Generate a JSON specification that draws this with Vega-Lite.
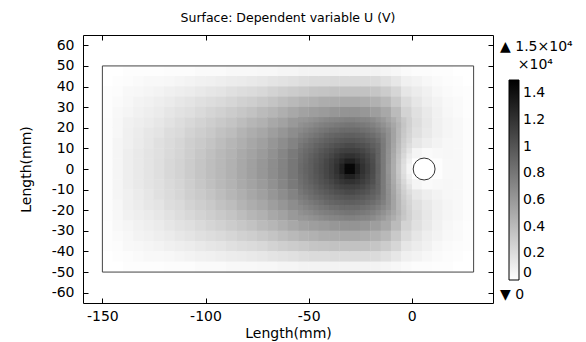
{
"$schema":"https://vega.github.io/schema/vega-lite/v6.json",
"width":410,"height":268,
"autosize":{"type":"none"},
"padding":{"left":83,"top":35,"right":93,"bottom":39},
"background":"white",
"title":{"text":"Surface: Dependent variable U (V)","font":"DejaVu Sans","fontSize":12.5,"fontWeight":"normal","color":"black","anchor":"middle","offset":10},
"config":{"view":{"stroke":"black","strokeWidth":1},"font":"DejaVu Sans","axis":{"grid":false,"domain":false,"tickColor":"black","labelColor":"black","titleColor":"black","labelFont":"DejaVu Sans","titleFont":"DejaVu Sans","labelFontSize":14,"titleFontSize":14,"titleFontWeight":"normal","tickSize":-5}},
"datasets":{
"coarse":[
{"x":-147.5,"y":47.5,"u":0},{"x":-147.5,"y":42.5,"u":0},{"x":-147.5,"y":37.5,"u":0.01},{"x":-147.5,"y":32.5,"u":0.01},{"x":-147.5,"y":27.5,"u":0.01},{"x":-147.5,"y":22.5,"u":0.02},{"x":-147.5,"y":17.5,"u":0.02},{"x":-147.5,"y":12.5,"u":0.02},{"x":-147.5,"y":7.5,"u":0.02},{"x":-147.5,"y":2.5,"u":0.02},{"x":-147.5,"y":-2.5,"u":0.02},{"x":-147.5,"y":-7.5,"u":0.02},{"x":-147.5,"y":-12.5,"u":0.02},{"x":-147.5,"y":-17.5,"u":0.02},{"x":-147.5,"y":-22.5,"u":0.02},{"x":-147.5,"y":-27.5,"u":0.01},{"x":-147.5,"y":-32.5,"u":0.01},{"x":-147.5,"y":-37.5,"u":0.01},{"x":-147.5,"y":-42.5,"u":0},{"x":-147.5,"y":-47.5,"u":0},
{"x":-142.5,"y":47.5,"u":0},{"x":-142.5,"y":42.5,"u":0.01},{"x":-142.5,"y":37.5,"u":0.02},{"x":-142.5,"y":32.5,"u":0.03},{"x":-142.5,"y":27.5,"u":0.04},{"x":-142.5,"y":22.5,"u":0.05},{"x":-142.5,"y":17.5,"u":0.05},{"x":-142.5,"y":12.5,"u":0.06},{"x":-142.5,"y":7.5,"u":0.06},{"x":-142.5,"y":2.5,"u":0.06},{"x":-142.5,"y":-2.5,"u":0.06},{"x":-142.5,"y":-7.5,"u":0.06},{"x":-142.5,"y":-12.5,"u":0.06},{"x":-142.5,"y":-17.5,"u":0.05},{"x":-142.5,"y":-22.5,"u":0.05},{"x":-142.5,"y":-27.5,"u":0.04},{"x":-142.5,"y":-32.5,"u":0.03},{"x":-142.5,"y":-37.5,"u":0.02},{"x":-142.5,"y":-42.5,"u":0.01},{"x":-142.5,"y":-47.5,"u":0},
{"x":-137.5,"y":47.5,"u":0.01},{"x":-137.5,"y":42.5,"u":0.02},{"x":-137.5,"y":37.5,"u":0.04},{"x":-137.5,"y":32.5,"u":0.05},{"x":-137.5,"y":27.5,"u":0.06},{"x":-137.5,"y":22.5,"u":0.08},{"x":-137.5,"y":17.5,"u":0.09},{"x":-137.5,"y":12.5,"u":0.09},{"x":-137.5,"y":7.5,"u":0.1},{"x":-137.5,"y":2.5,"u":0.1},{"x":-137.5,"y":-2.5,"u":0.1},{"x":-137.5,"y":-7.5,"u":0.1},{"x":-137.5,"y":-12.5,"u":0.09},{"x":-137.5,"y":-17.5,"u":0.09},{"x":-137.5,"y":-22.5,"u":0.08},{"x":-137.5,"y":-27.5,"u":0.06},{"x":-137.5,"y":-32.5,"u":0.05},{"x":-137.5,"y":-37.5,"u":0.04},{"x":-137.5,"y":-42.5,"u":0.02},{"x":-137.5,"y":-47.5,"u":0.01},
{"x":-132.5,"y":47.5,"u":0.01},{"x":-132.5,"y":42.5,"u":0.03},{"x":-132.5,"y":37.5,"u":0.05},{"x":-132.5,"y":32.5,"u":0.07},{"x":-132.5,"y":27.5,"u":0.08},{"x":-132.5,"y":22.5,"u":0.1},{"x":-132.5,"y":17.5,"u":0.11},{"x":-132.5,"y":12.5,"u":0.12},{"x":-132.5,"y":7.5,"u":0.13},{"x":-132.5,"y":2.5,"u":0.13},{"x":-132.5,"y":-2.5,"u":0.13},{"x":-132.5,"y":-7.5,"u":0.13},{"x":-132.5,"y":-12.5,"u":0.12},{"x":-132.5,"y":-17.5,"u":0.11},{"x":-132.5,"y":-22.5,"u":0.1},{"x":-132.5,"y":-27.5,"u":0.08},{"x":-132.5,"y":-32.5,"u":0.07},{"x":-132.5,"y":-37.5,"u":0.05},{"x":-132.5,"y":-42.5,"u":0.03},{"x":-132.5,"y":-47.5,"u":0.01},
{"x":-127.5,"y":47.5,"u":0.01},{"x":-127.5,"y":42.5,"u":0.04},{"x":-127.5,"y":37.5,"u":0.06},{"x":-127.5,"y":32.5,"u":0.08},{"x":-127.5,"y":27.5,"u":0.1},{"x":-127.5,"y":22.5,"u":0.12},{"x":-127.5,"y":17.5,"u":0.14},{"x":-127.5,"y":12.5,"u":0.15},{"x":-127.5,"y":7.5,"u":0.16},{"x":-127.5,"y":2.5,"u":0.16},{"x":-127.5,"y":-2.5,"u":0.16},{"x":-127.5,"y":-7.5,"u":0.16},{"x":-127.5,"y":-12.5,"u":0.15},{"x":-127.5,"y":-17.5,"u":0.14},{"x":-127.5,"y":-22.5,"u":0.12},{"x":-127.5,"y":-27.5,"u":0.1},{"x":-127.5,"y":-32.5,"u":0.08},{"x":-127.5,"y":-37.5,"u":0.06},{"x":-127.5,"y":-42.5,"u":0.04},{"x":-127.5,"y":-47.5,"u":0.01},
{"x":-122.5,"y":47.5,"u":0.01},{"x":-122.5,"y":42.5,"u":0.04},{"x":-122.5,"y":37.5,"u":0.07},{"x":-122.5,"y":32.5,"u":0.1},{"x":-122.5,"y":27.5,"u":0.12},{"x":-122.5,"y":22.5,"u":0.14},{"x":-122.5,"y":17.5,"u":0.16},{"x":-122.5,"y":12.5,"u":0.18},{"x":-122.5,"y":7.5,"u":0.18},{"x":-122.5,"y":2.5,"u":0.19},{"x":-122.5,"y":-2.5,"u":0.19},{"x":-122.5,"y":-7.5,"u":0.18},{"x":-122.5,"y":-12.5,"u":0.18},{"x":-122.5,"y":-17.5,"u":0.16},{"x":-122.5,"y":-22.5,"u":0.14},{"x":-122.5,"y":-27.5,"u":0.12},{"x":-122.5,"y":-32.5,"u":0.1},{"x":-122.5,"y":-37.5,"u":0.07},{"x":-122.5,"y":-42.5,"u":0.04},{"x":-122.5,"y":-47.5,"u":0.01},
{"x":-117.5,"y":47.5,"u":0.02},{"x":-117.5,"y":42.5,"u":0.05},{"x":-117.5,"y":37.5,"u":0.09},{"x":-117.5,"y":32.5,"u":0.12},{"x":-117.5,"y":27.5,"u":0.15},{"x":-117.5,"y":22.5,"u":0.17},{"x":-117.5,"y":17.5,"u":0.2},{"x":-117.5,"y":12.5,"u":0.21},{"x":-117.5,"y":7.5,"u":0.22},{"x":-117.5,"y":2.5,"u":0.23},{"x":-117.5,"y":-2.5,"u":0.23},{"x":-117.5,"y":-7.5,"u":0.22},{"x":-117.5,"y":-12.5,"u":0.21},{"x":-117.5,"y":-17.5,"u":0.2},{"x":-117.5,"y":-22.5,"u":0.17},{"x":-117.5,"y":-27.5,"u":0.15},{"x":-117.5,"y":-32.5,"u":0.12},{"x":-117.5,"y":-37.5,"u":0.09},{"x":-117.5,"y":-42.5,"u":0.05},{"x":-117.5,"y":-47.5,"u":0.02},
{"x":-112.5,"y":47.5,"u":0.02},{"x":-112.5,"y":42.5,"u":0.06},{"x":-112.5,"y":37.5,"u":0.1},{"x":-112.5,"y":32.5,"u":0.14},{"x":-112.5,"y":27.5,"u":0.17},{"x":-112.5,"y":22.5,"u":0.2},{"x":-112.5,"y":17.5,"u":0.22},{"x":-112.5,"y":12.5,"u":0.24},{"x":-112.5,"y":7.5,"u":0.25},{"x":-112.5,"y":2.5,"u":0.26},{"x":-112.5,"y":-2.5,"u":0.26},{"x":-112.5,"y":-7.5,"u":0.25},{"x":-112.5,"y":-12.5,"u":0.24},{"x":-112.5,"y":-17.5,"u":0.22},{"x":-112.5,"y":-22.5,"u":0.2},{"x":-112.5,"y":-27.5,"u":0.17},{"x":-112.5,"y":-32.5,"u":0.14},{"x":-112.5,"y":-37.5,"u":0.1},{"x":-112.5,"y":-42.5,"u":0.06},{"x":-112.5,"y":-47.5,"u":0.02},
{"x":-107.5,"y":47.5,"u":0.02},{"x":-107.5,"y":42.5,"u":0.07},{"x":-107.5,"y":37.5,"u":0.11},{"x":-107.5,"y":32.5,"u":0.16},{"x":-107.5,"y":27.5,"u":0.19},{"x":-107.5,"y":22.5,"u":0.23},{"x":-107.5,"y":17.5,"u":0.26},{"x":-107.5,"y":12.5,"u":0.28},{"x":-107.5,"y":7.5,"u":0.29},{"x":-107.5,"y":2.5,"u":0.3},{"x":-107.5,"y":-2.5,"u":0.3},{"x":-107.5,"y":-7.5,"u":0.29},{"x":-107.5,"y":-12.5,"u":0.28},{"x":-107.5,"y":-17.5,"u":0.26},{"x":-107.5,"y":-22.5,"u":0.23},{"x":-107.5,"y":-27.5,"u":0.19},{"x":-107.5,"y":-32.5,"u":0.16},{"x":-107.5,"y":-37.5,"u":0.11},{"x":-107.5,"y":-42.5,"u":0.07},{"x":-107.5,"y":-47.5,"u":0.02},
{"x":-102.5,"y":47.5,"u":0.03},{"x":-102.5,"y":42.5,"u":0.08},{"x":-102.5,"y":37.5,"u":0.13},{"x":-102.5,"y":32.5,"u":0.18},{"x":-102.5,"y":27.5,"u":0.22},{"x":-102.5,"y":22.5,"u":0.26},{"x":-102.5,"y":17.5,"u":0.29},{"x":-102.5,"y":12.5,"u":0.31},{"x":-102.5,"y":7.5,"u":0.33},{"x":-102.5,"y":2.5,"u":0.34},{"x":-102.5,"y":-2.5,"u":0.34},{"x":-102.5,"y":-7.5,"u":0.33},{"x":-102.5,"y":-12.5,"u":0.31},{"x":-102.5,"y":-17.5,"u":0.29},{"x":-102.5,"y":-22.5,"u":0.26},{"x":-102.5,"y":-27.5,"u":0.22},{"x":-102.5,"y":-32.5,"u":0.18},{"x":-102.5,"y":-37.5,"u":0.13},{"x":-102.5,"y":-42.5,"u":0.08},{"x":-102.5,"y":-47.5,"u":0.03},
{"x":-97.5,"y":47.5,"u":0.03},{"x":-97.5,"y":42.5,"u":0.09},{"x":-97.5,"y":37.5,"u":0.15},{"x":-97.5,"y":32.5,"u":0.2},{"x":-97.5,"y":27.5,"u":0.25},{"x":-97.5,"y":22.5,"u":0.29},{"x":-97.5,"y":17.5,"u":0.32},{"x":-97.5,"y":12.5,"u":0.35},{"x":-97.5,"y":7.5,"u":0.37},{"x":-97.5,"y":2.5,"u":0.38},{"x":-97.5,"y":-2.5,"u":0.38},{"x":-97.5,"y":-7.5,"u":0.37},{"x":-97.5,"y":-12.5,"u":0.35},{"x":-97.5,"y":-17.5,"u":0.32},{"x":-97.5,"y":-22.5,"u":0.29},{"x":-97.5,"y":-27.5,"u":0.25},{"x":-97.5,"y":-32.5,"u":0.2},{"x":-97.5,"y":-37.5,"u":0.15},{"x":-97.5,"y":-42.5,"u":0.09},{"x":-97.5,"y":-47.5,"u":0.03},
{"x":-92.5,"y":47.5,"u":0.03},{"x":-92.5,"y":42.5,"u":0.1},{"x":-92.5,"y":37.5,"u":0.16},{"x":-92.5,"y":32.5,"u":0.22},{"x":-92.5,"y":27.5,"u":0.27},{"x":-92.5,"y":22.5,"u":0.32},{"x":-92.5,"y":17.5,"u":0.36},{"x":-92.5,"y":12.5,"u":0.39},{"x":-92.5,"y":7.5,"u":0.41},{"x":-92.5,"y":2.5,"u":0.42},{"x":-92.5,"y":-2.5,"u":0.42},{"x":-92.5,"y":-7.5,"u":0.41},{"x":-92.5,"y":-12.5,"u":0.39},{"x":-92.5,"y":-17.5,"u":0.36},{"x":-92.5,"y":-22.5,"u":0.32},{"x":-92.5,"y":-27.5,"u":0.27},{"x":-92.5,"y":-32.5,"u":0.22},{"x":-92.5,"y":-37.5,"u":0.16},{"x":-92.5,"y":-42.5,"u":0.1},{"x":-92.5,"y":-47.5,"u":0.03},
{"x":-87.5,"y":47.5,"u":0.04},{"x":-87.5,"y":42.5,"u":0.11},{"x":-87.5,"y":37.5,"u":0.18},{"x":-87.5,"y":32.5,"u":0.24},{"x":-87.5,"y":27.5,"u":0.3},{"x":-87.5,"y":22.5,"u":0.35},{"x":-87.5,"y":17.5,"u":0.39},{"x":-87.5,"y":12.5,"u":0.43},{"x":-87.5,"y":7.5,"u":0.45},{"x":-87.5,"y":2.5,"u":0.46},{"x":-87.5,"y":-2.5,"u":0.46},{"x":-87.5,"y":-7.5,"u":0.45},{"x":-87.5,"y":-12.5,"u":0.43},{"x":-87.5,"y":-17.5,"u":0.39},{"x":-87.5,"y":-22.5,"u":0.35},{"x":-87.5,"y":-27.5,"u":0.3},{"x":-87.5,"y":-32.5,"u":0.24},{"x":-87.5,"y":-37.5,"u":0.18},{"x":-87.5,"y":-42.5,"u":0.11},{"x":-87.5,"y":-47.5,"u":0.04},
{"x":-82.5,"y":47.5,"u":0.04},{"x":-82.5,"y":42.5,"u":0.12},{"x":-82.5,"y":37.5,"u":0.2},{"x":-82.5,"y":32.5,"u":0.27},{"x":-82.5,"y":27.5,"u":0.33},{"x":-82.5,"y":22.5,"u":0.39},{"x":-82.5,"y":17.5,"u":0.44},{"x":-82.5,"y":12.5,"u":0.47},{"x":-82.5,"y":7.5,"u":0.5},{"x":-82.5,"y":2.5,"u":0.51},{"x":-82.5,"y":-2.5,"u":0.51},{"x":-82.5,"y":-7.5,"u":0.5},{"x":-82.5,"y":-12.5,"u":0.47},{"x":-82.5,"y":-17.5,"u":0.44},{"x":-82.5,"y":-22.5,"u":0.39},{"x":-82.5,"y":-27.5,"u":0.33},{"x":-82.5,"y":-32.5,"u":0.27},{"x":-82.5,"y":-37.5,"u":0.2},{"x":-82.5,"y":-42.5,"u":0.12},{"x":-82.5,"y":-47.5,"u":0.04},
{"x":-77.5,"y":47.5,"u":0.04},{"x":-77.5,"y":42.5,"u":0.13},{"x":-77.5,"y":37.5,"u":0.21},{"x":-77.5,"y":32.5,"u":0.29},{"x":-77.5,"y":27.5,"u":0.36},{"x":-77.5,"y":22.5,"u":0.43},{"x":-77.5,"y":17.5,"u":0.48},{"x":-77.5,"y":12.5,"u":0.52},{"x":-77.5,"y":7.5,"u":0.54},{"x":-77.5,"y":2.5,"u":0.56},{"x":-77.5,"y":-2.5,"u":0.56},{"x":-77.5,"y":-7.5,"u":0.54},{"x":-77.5,"y":-12.5,"u":0.52},{"x":-77.5,"y":-17.5,"u":0.48},{"x":-77.5,"y":-22.5,"u":0.43},{"x":-77.5,"y":-27.5,"u":0.36},{"x":-77.5,"y":-32.5,"u":0.29},{"x":-77.5,"y":-37.5,"u":0.21},{"x":-77.5,"y":-42.5,"u":0.13},{"x":-77.5,"y":-47.5,"u":0.04},
{"x":-72.5,"y":47.5,"u":0.05},{"x":-72.5,"y":42.5,"u":0.14},{"x":-72.5,"y":37.5,"u":0.23},{"x":-72.5,"y":32.5,"u":0.32},{"x":-72.5,"y":27.5,"u":0.4},{"x":-72.5,"y":22.5,"u":0.46},{"x":-72.5,"y":17.5,"u":0.52},{"x":-72.5,"y":12.5,"u":0.56},{"x":-72.5,"y":7.5,"u":0.59},{"x":-72.5,"y":2.5,"u":0.61},{"x":-72.5,"y":-2.5,"u":0.61},{"x":-72.5,"y":-7.5,"u":0.59},{"x":-72.5,"y":-12.5,"u":0.56},{"x":-72.5,"y":-17.5,"u":0.52},{"x":-72.5,"y":-22.5,"u":0.46},{"x":-72.5,"y":-27.5,"u":0.4},{"x":-72.5,"y":-32.5,"u":0.32},{"x":-72.5,"y":-37.5,"u":0.23},{"x":-72.5,"y":-42.5,"u":0.14},{"x":-72.5,"y":-47.5,"u":0.05},
{"x":-67.5,"y":47.5,"u":0.05},{"x":-67.5,"y":42.5,"u":0.16},{"x":-67.5,"y":37.5,"u":0.26},{"x":-67.5,"y":32.5,"u":0.35},{"x":-67.5,"y":27.5,"u":0.43},{"x":-67.5,"y":22.5,"u":0.51},{"x":-67.5,"y":17.5,"u":0.57},{"x":-67.5,"y":12.5,"u":0.62},{"x":-67.5,"y":7.5,"u":0.65},{"x":-67.5,"y":2.5,"u":0.67},{"x":-67.5,"y":-2.5,"u":0.67},{"x":-67.5,"y":-7.5,"u":0.65},{"x":-67.5,"y":-12.5,"u":0.62},{"x":-67.5,"y":-17.5,"u":0.57},{"x":-67.5,"y":-22.5,"u":0.51},{"x":-67.5,"y":-27.5,"u":0.43},{"x":-67.5,"y":-32.5,"u":0.35},{"x":-67.5,"y":-37.5,"u":0.26},{"x":-67.5,"y":-42.5,"u":0.16},{"x":-67.5,"y":-47.5,"u":0.05},
{"x":-62.5,"y":47.5,"u":0.06},{"x":-62.5,"y":42.5,"u":0.17},{"x":-62.5,"y":37.5,"u":0.28},{"x":-62.5,"y":32.5,"u":0.38},{"x":-62.5,"y":27.5,"u":0.47},{"x":-62.5,"y":22.5,"u":0.55},{"x":-62.5,"y":17.5,"u":0.62},{"x":-62.5,"y":12.5,"u":0.67},{"x":-62.5,"y":7.5,"u":0.71},{"x":-62.5,"y":2.5,"u":0.73},{"x":-62.5,"y":-2.5,"u":0.73},{"x":-62.5,"y":-7.5,"u":0.71},{"x":-62.5,"y":-12.5,"u":0.67},{"x":-62.5,"y":-17.5,"u":0.62},{"x":-62.5,"y":-22.5,"u":0.55},{"x":-62.5,"y":-27.5,"u":0.47},{"x":-62.5,"y":-32.5,"u":0.38},{"x":-62.5,"y":-37.5,"u":0.28},{"x":-62.5,"y":-42.5,"u":0.17},{"x":-62.5,"y":-47.5,"u":0.06},
{"x":-57.5,"y":47.5,"u":0.06},{"x":-57.5,"y":42.5,"u":0.18},{"x":-57.5,"y":37.5,"u":0.3},{"x":-57.5,"y":32.5,"u":0.41},{"x":-57.5,"y":27.5,"u":0.51},{"x":-57.5,"y":22.5,"u":0.6},{"x":-57.5,"y":17.5,"u":0.67},{"x":-57.5,"y":12.5,"u":0.73},{"x":-57.5,"y":7.5,"u":0.78},{"x":-57.5,"y":2.5,"u":0.8},{"x":-57.5,"y":-2.5,"u":0.8},{"x":-57.5,"y":-7.5,"u":0.78},{"x":-57.5,"y":-12.5,"u":0.73},{"x":-57.5,"y":-17.5,"u":0.67},{"x":-57.5,"y":-22.5,"u":0.6},{"x":-57.5,"y":-27.5,"u":0.51},{"x":-57.5,"y":-32.5,"u":0.41},{"x":-57.5,"y":-37.5,"u":0.3},{"x":-57.5,"y":-42.5,"u":0.18},{"x":-57.5,"y":-47.5,"u":0.06},
{"x":-52.5,"y":47.5,"u":0.07},{"x":-52.5,"y":42.5,"u":0.2},{"x":-52.5,"y":37.5,"u":0.32},{"x":-52.5,"y":32.5,"u":0.44},{"x":-52.5,"y":27.5,"u":0.55},{"x":-52.5,"y":22.5,"u":0.64},{"x":-52.5,"y":17.5,"u":0.73},{"x":-52.5,"y":12.5,"u":0.8},{"x":-52.5,"y":7.5,"u":0.86},{"x":-52.5,"y":2.5,"u":0.89},{"x":-52.5,"y":-2.5,"u":0.89},{"x":-52.5,"y":-7.5,"u":0.86},{"x":-52.5,"y":-12.5,"u":0.8},{"x":-52.5,"y":-17.5,"u":0.73},{"x":-52.5,"y":-22.5,"u":0.64},{"x":-52.5,"y":-27.5,"u":0.55},{"x":-52.5,"y":-32.5,"u":0.44},{"x":-52.5,"y":-37.5,"u":0.32},{"x":-52.5,"y":-42.5,"u":0.2},{"x":-52.5,"y":-47.5,"u":0.07},
{"x":-47.5,"y":47.5,"u":0.07},{"x":-47.5,"y":42.5,"u":0.21},{"x":-47.5,"y":37.5,"u":0.34},{"x":-47.5,"y":32.5,"u":0.46},{"x":-47.5,"y":27.5,"u":0.57},{"x":-47.5,"y":22.5,"u":0.68},{"x":-47.5,"y":17.5,"u":0.79},{"x":-47.5,"y":12.5,"u":0.87},{"x":-47.5,"y":7.5,"u":0.94},{"x":-47.5,"y":2.5,"u":0.97},{"x":-47.5,"y":-2.5,"u":0.97},{"x":-47.5,"y":-7.5,"u":0.94},{"x":-47.5,"y":-12.5,"u":0.87},{"x":-47.5,"y":-17.5,"u":0.79},{"x":-47.5,"y":-22.5,"u":0.68},{"x":-47.5,"y":-27.5,"u":0.57},{"x":-47.5,"y":-32.5,"u":0.46},{"x":-47.5,"y":-37.5,"u":0.34},{"x":-47.5,"y":-42.5,"u":0.21},{"x":-47.5,"y":-47.5,"u":0.07},
{"x":-42.5,"y":47.5,"u":0.07},{"x":-42.5,"y":42.5,"u":0.21},{"x":-42.5,"y":37.5,"u":0.35},{"x":-42.5,"y":32.5,"u":0.48},{"x":-42.5,"y":27.5,"u":0.59},{"x":-42.5,"y":22.5,"u":0.72},{"x":-42.5,"y":17.5,"u":0.84},{"x":-42.5,"y":12.5,"u":0.94},{"x":-42.5,"y":7.5,"u":1.01},{"x":-42.5,"y":2.5,"u":1.06},{"x":-42.5,"y":-2.5,"u":1.06},{"x":-42.5,"y":-7.5,"u":1.01},{"x":-42.5,"y":-12.5,"u":0.94},{"x":-42.5,"y":-17.5,"u":0.84},{"x":-42.5,"y":-22.5,"u":0.72},{"x":-42.5,"y":-27.5,"u":0.59},{"x":-42.5,"y":-32.5,"u":0.48},{"x":-42.5,"y":-37.5,"u":0.35},{"x":-42.5,"y":-42.5,"u":0.21},{"x":-42.5,"y":-47.5,"u":0.07},
{"x":-37.5,"y":47.5,"u":0.07},{"x":-37.5,"y":42.5,"u":0.22},{"x":-37.5,"y":37.5,"u":0.36},{"x":-37.5,"y":32.5,"u":0.49},{"x":-37.5,"y":27.5,"u":0.61},{"x":-37.5,"y":22.5,"u":0.75},{"x":-37.5,"y":17.5,"u":0.88},{"x":-37.5,"y":12.5,"u":0.99},{"x":-37.5,"y":7.5,"u":1.09},{"x":-37.5,"y":2.5,"u":1.17},{"x":-37.5,"y":-2.5,"u":1.17},{"x":-37.5,"y":-7.5,"u":1.09},{"x":-37.5,"y":-12.5,"u":0.99},{"x":-37.5,"y":-17.5,"u":0.88},{"x":-37.5,"y":-22.5,"u":0.75},{"x":-37.5,"y":-27.5,"u":0.61},{"x":-37.5,"y":-32.5,"u":0.49},{"x":-37.5,"y":-37.5,"u":0.36},{"x":-37.5,"y":-42.5,"u":0.22},{"x":-37.5,"y":-47.5,"u":0.07},
{"x":-32.5,"y":47.5,"u":0.07},{"x":-32.5,"y":42.5,"u":0.22},{"x":-32.5,"y":37.5,"u":0.36},{"x":-32.5,"y":32.5,"u":0.5},{"x":-32.5,"y":27.5,"u":0.63},{"x":-32.5,"y":22.5,"u":0.77},{"x":-32.5,"y":17.5,"u":0.91},{"x":-32.5,"y":12.5,"u":1.03},{"x":-32.5,"y":7.5,"u":1.16},{"x":-32.5,"y":2.5,"u":1.33},{"x":-32.5,"y":-2.5,"u":1.33},{"x":-32.5,"y":-7.5,"u":1.16},{"x":-32.5,"y":-12.5,"u":1.03},{"x":-32.5,"y":-17.5,"u":0.91},{"x":-32.5,"y":-22.5,"u":0.77},{"x":-32.5,"y":-27.5,"u":0.63},{"x":-32.5,"y":-32.5,"u":0.5},{"x":-32.5,"y":-37.5,"u":0.36},{"x":-32.5,"y":-42.5,"u":0.22},{"x":-32.5,"y":-47.5,"u":0.07},
{"x":-27.5,"y":47.5,"u":0.07},{"x":-27.5,"y":42.5,"u":0.22},{"x":-27.5,"y":37.5,"u":0.36},{"x":-27.5,"y":32.5,"u":0.5},{"x":-27.5,"y":27.5,"u":0.63},{"x":-27.5,"y":22.5,"u":0.77},{"x":-27.5,"y":17.5,"u":0.91},{"x":-27.5,"y":12.5,"u":1.03},{"x":-27.5,"y":7.5,"u":1.16},{"x":-27.5,"y":2.5,"u":1.33},{"x":-27.5,"y":-2.5,"u":1.33},{"x":-27.5,"y":-7.5,"u":1.16},{"x":-27.5,"y":-12.5,"u":1.03},{"x":-27.5,"y":-17.5,"u":0.91},{"x":-27.5,"y":-22.5,"u":0.77},{"x":-27.5,"y":-27.5,"u":0.63},{"x":-27.5,"y":-32.5,"u":0.5},{"x":-27.5,"y":-37.5,"u":0.36},{"x":-27.5,"y":-42.5,"u":0.22},{"x":-27.5,"y":-47.5,"u":0.07},
{"x":-22.5,"y":47.5,"u":0.07},{"x":-22.5,"y":42.5,"u":0.22},{"x":-22.5,"y":37.5,"u":0.36},{"x":-22.5,"y":32.5,"u":0.49},{"x":-22.5,"y":27.5,"u":0.61},{"x":-22.5,"y":22.5,"u":0.75},{"x":-22.5,"y":17.5,"u":0.88},{"x":-22.5,"y":12.5,"u":0.99},{"x":-22.5,"y":7.5,"u":1.09},{"x":-22.5,"y":2.5,"u":1.17},{"x":-22.5,"y":-2.5,"u":1.17},{"x":-22.5,"y":-7.5,"u":1.09},{"x":-22.5,"y":-12.5,"u":0.99},{"x":-22.5,"y":-17.5,"u":0.88},{"x":-22.5,"y":-22.5,"u":0.75},{"x":-22.5,"y":-27.5,"u":0.61},{"x":-22.5,"y":-32.5,"u":0.49},{"x":-22.5,"y":-37.5,"u":0.36},{"x":-22.5,"y":-42.5,"u":0.22},{"x":-22.5,"y":-47.5,"u":0.07},
{"x":-17.5,"y":47.5,"u":0.07},{"x":-17.5,"y":42.5,"u":0.21},{"x":-17.5,"y":37.5,"u":0.34},{"x":-17.5,"y":32.5,"u":0.46},{"x":-17.5,"y":27.5,"u":0.57},{"x":-17.5,"y":22.5,"u":0.7},{"x":-17.5,"y":17.5,"u":0.81},{"x":-17.5,"y":12.5,"u":0.91},{"x":-17.5,"y":7.5,"u":0.98},{"x":-17.5,"y":2.5,"u":1},{"x":-17.5,"y":-2.5,"u":1},{"x":-17.5,"y":-7.5,"u":0.98},{"x":-17.5,"y":-12.5,"u":0.91},{"x":-17.5,"y":-17.5,"u":0.81},{"x":-17.5,"y":-22.5,"u":0.7},{"x":-17.5,"y":-27.5,"u":0.57},{"x":-17.5,"y":-32.5,"u":0.46},{"x":-17.5,"y":-37.5,"u":0.34},{"x":-17.5,"y":-42.5,"u":0.21},{"x":-17.5,"y":-47.5,"u":0.07},
{"x":-12.5,"y":47.5,"u":0.06},{"x":-12.5,"y":42.5,"u":0.18},{"x":-12.5,"y":37.5,"u":0.3},{"x":-12.5,"y":32.5,"u":0.41},{"x":-12.5,"y":27.5,"u":0.51},{"x":-12.5,"y":22.5,"u":0.6},{"x":-12.5,"y":17.5,"u":0.7},{"x":-12.5,"y":12.5,"u":0.72},{"x":-12.5,"y":7.5,"u":0.72},{"x":-12.5,"y":2.5,"u":0.71},{"x":-12.5,"y":-2.5,"u":0.71},{"x":-12.5,"y":-7.5,"u":0.72},{"x":-12.5,"y":-12.5,"u":0.72},{"x":-12.5,"y":-17.5,"u":0.7},{"x":-12.5,"y":-22.5,"u":0.6},{"x":-12.5,"y":-27.5,"u":0.51},{"x":-12.5,"y":-32.5,"u":0.41},{"x":-12.5,"y":-37.5,"u":0.3},{"x":-12.5,"y":-42.5,"u":0.18},{"x":-12.5,"y":-47.5,"u":0.06},
{"x":-7.5,"y":47.5,"u":0.05},{"x":-7.5,"y":42.5,"u":0.14},{"x":-7.5,"y":37.5,"u":0.24},{"x":-7.5,"y":32.5,"u":0.32},{"x":-7.5,"y":27.5,"u":0.4},{"x":-7.5,"y":22.5,"u":0.47},{"x":-7.5,"y":17.5,"u":0.49},{"x":-7.5,"y":12.5,"u":0.48},{"x":-7.5,"y":7.5,"u":0.44},{"x":-7.5,"y":2.5,"u":0.41},{"x":-7.5,"y":-2.5,"u":0.41},{"x":-7.5,"y":-7.5,"u":0.44},{"x":-7.5,"y":-12.5,"u":0.48},{"x":-7.5,"y":-17.5,"u":0.49},{"x":-7.5,"y":-22.5,"u":0.47},{"x":-7.5,"y":-27.5,"u":0.4},{"x":-7.5,"y":-32.5,"u":0.32},{"x":-7.5,"y":-37.5,"u":0.24},{"x":-7.5,"y":-42.5,"u":0.14},{"x":-7.5,"y":-47.5,"u":0.05},
{"x":-2.5,"y":47.5,"u":0.03},{"x":-2.5,"y":42.5,"u":0.09},{"x":-2.5,"y":37.5,"u":0.15},{"x":-2.5,"y":32.5,"u":0.21},{"x":-2.5,"y":27.5,"u":0.26},{"x":-2.5,"y":22.5,"u":0.3},{"x":-2.5,"y":17.5,"u":0.28},{"x":-2.5,"y":12.5,"u":0.24},{"x":-2.5,"y":7.5,"u":0.18},{"x":-2.5,"y":2.5,"u":0.12},{"x":-2.5,"y":-2.5,"u":0.12},{"x":-2.5,"y":-7.5,"u":0.18},{"x":-2.5,"y":-12.5,"u":0.24},{"x":-2.5,"y":-17.5,"u":0.28},{"x":-2.5,"y":-22.5,"u":0.3},{"x":-2.5,"y":-27.5,"u":0.26},{"x":-2.5,"y":-32.5,"u":0.21},{"x":-2.5,"y":-37.5,"u":0.15},{"x":-2.5,"y":-42.5,"u":0.09},{"x":-2.5,"y":-47.5,"u":0.03},
{"x":2.5,"y":47.5,"u":0.02},{"x":2.5,"y":42.5,"u":0.07},{"x":2.5,"y":37.5,"u":0.11},{"x":2.5,"y":32.5,"u":0.15},{"x":2.5,"y":27.5,"u":0.18},{"x":2.5,"y":22.5,"u":0.2},{"x":2.5,"y":17.5,"u":0.18},{"x":2.5,"y":12.5,"u":0.14},{"x":2.5,"y":7.5,"u":0.06},{"x":2.5,"y":2.5,"u":0},{"x":2.5,"y":-2.5,"u":0},{"x":2.5,"y":-7.5,"u":0.06},{"x":2.5,"y":-12.5,"u":0.14},{"x":2.5,"y":-17.5,"u":0.18},{"x":2.5,"y":-22.5,"u":0.2},{"x":2.5,"y":-27.5,"u":0.18},{"x":2.5,"y":-32.5,"u":0.15},{"x":2.5,"y":-37.5,"u":0.11},{"x":2.5,"y":-42.5,"u":0.07},{"x":2.5,"y":-47.5,"u":0.02},
{"x":7.5,"y":47.5,"u":0.02},{"x":7.5,"y":42.5,"u":0.05},{"x":7.5,"y":37.5,"u":0.08},{"x":7.5,"y":32.5,"u":0.1},{"x":7.5,"y":27.5,"u":0.13},{"x":7.5,"y":22.5,"u":0.14},{"x":7.5,"y":17.5,"u":0.13},{"x":7.5,"y":12.5,"u":0.1},{"x":7.5,"y":7.5,"u":0.03},{"x":7.5,"y":2.5,"u":0},{"x":7.5,"y":-2.5,"u":0},{"x":7.5,"y":-7.5,"u":0.03},{"x":7.5,"y":-12.5,"u":0.1},{"x":7.5,"y":-17.5,"u":0.13},{"x":7.5,"y":-22.5,"u":0.14},{"x":7.5,"y":-27.5,"u":0.13},{"x":7.5,"y":-32.5,"u":0.1},{"x":7.5,"y":-37.5,"u":0.08},{"x":7.5,"y":-42.5,"u":0.05},{"x":7.5,"y":-47.5,"u":0.02},
{"x":12.5,"y":47.5,"u":0.01},{"x":12.5,"y":42.5,"u":0.03},{"x":12.5,"y":37.5,"u":0.05},{"x":12.5,"y":32.5,"u":0.07},{"x":12.5,"y":27.5,"u":0.08},{"x":12.5,"y":22.5,"u":0.09},{"x":12.5,"y":17.5,"u":0.09},{"x":12.5,"y":12.5,"u":0.07},{"x":12.5,"y":7.5,"u":0.04},{"x":12.5,"y":2.5,"u":0.01},{"x":12.5,"y":-2.5,"u":0.01},{"x":12.5,"y":-7.5,"u":0.04},{"x":12.5,"y":-12.5,"u":0.07},{"x":12.5,"y":-17.5,"u":0.09},{"x":12.5,"y":-22.5,"u":0.09},{"x":12.5,"y":-27.5,"u":0.08},{"x":12.5,"y":-32.5,"u":0.07},{"x":12.5,"y":-37.5,"u":0.05},{"x":12.5,"y":-42.5,"u":0.03},{"x":12.5,"y":-47.5,"u":0.01},
{"x":17.5,"y":47.5,"u":0.01},{"x":17.5,"y":42.5,"u":0.02},{"x":17.5,"y":37.5,"u":0.03},{"x":17.5,"y":32.5,"u":0.04},{"x":17.5,"y":27.5,"u":0.05},{"x":17.5,"y":22.5,"u":0.06},{"x":17.5,"y":17.5,"u":0.06},{"x":17.5,"y":12.5,"u":0.05},{"x":17.5,"y":7.5,"u":0.05},{"x":17.5,"y":2.5,"u":0.04},{"x":17.5,"y":-2.5,"u":0.04},{"x":17.5,"y":-7.5,"u":0.05},{"x":17.5,"y":-12.5,"u":0.05},{"x":17.5,"y":-17.5,"u":0.06},{"x":17.5,"y":-22.5,"u":0.06},{"x":17.5,"y":-27.5,"u":0.05},{"x":17.5,"y":-32.5,"u":0.04},{"x":17.5,"y":-37.5,"u":0.03},{"x":17.5,"y":-42.5,"u":0.02},{"x":17.5,"y":-47.5,"u":0.01},
{"x":22.5,"y":47.5,"u":0},{"x":22.5,"y":42.5,"u":0.01},{"x":22.5,"y":37.5,"u":0.02},{"x":22.5,"y":32.5,"u":0.03},{"x":22.5,"y":27.5,"u":0.03},{"x":22.5,"y":22.5,"u":0.04},{"x":22.5,"y":17.5,"u":0.04},{"x":22.5,"y":12.5,"u":0.04},{"x":22.5,"y":7.5,"u":0.04},{"x":22.5,"y":2.5,"u":0.04},{"x":22.5,"y":-2.5,"u":0.04},{"x":22.5,"y":-7.5,"u":0.04},{"x":22.5,"y":-12.5,"u":0.04},{"x":22.5,"y":-17.5,"u":0.04},{"x":22.5,"y":-22.5,"u":0.04},{"x":22.5,"y":-27.5,"u":0.03},{"x":22.5,"y":-32.5,"u":0.03},{"x":22.5,"y":-37.5,"u":0.02},{"x":22.5,"y":-42.5,"u":0.01},{"x":22.5,"y":-47.5,"u":0},
{"x":27.5,"y":47.5,"u":0},{"x":27.5,"y":42.5,"u":0},{"x":27.5,"y":37.5,"u":0.01},{"x":27.5,"y":32.5,"u":0.01},{"x":27.5,"y":27.5,"u":0.01},{"x":27.5,"y":22.5,"u":0.02},{"x":27.5,"y":17.5,"u":0.02},{"x":27.5,"y":12.5,"u":0.02},{"x":27.5,"y":7.5,"u":0.02},{"x":27.5,"y":2.5,"u":0.02},{"x":27.5,"y":-2.5,"u":0.02},{"x":27.5,"y":-7.5,"u":0.02},{"x":27.5,"y":-12.5,"u":0.02},{"x":27.5,"y":-17.5,"u":0.02},{"x":27.5,"y":-22.5,"u":0.02},{"x":27.5,"y":-27.5,"u":0.01},{"x":27.5,"y":-32.5,"u":0.01},{"x":27.5,"y":-37.5,"u":0.01},{"x":27.5,"y":-42.5,"u":0},{"x":27.5,"y":-47.5,"u":0}
],
"fine":[
{"x":-53.75,"y":23.75,"u":0.61},{"x":-53.75,"y":21.25,"u":0.65},{"x":-53.75,"y":18.75,"u":0.69},{"x":-53.75,"y":16.25,"u":0.73},{"x":-53.75,"y":13.75,"u":0.77},{"x":-53.75,"y":11.25,"u":0.8},{"x":-53.75,"y":8.75,"u":0.83},{"x":-53.75,"y":6.25,"u":0.85},{"x":-53.75,"y":3.75,"u":0.86},{"x":-53.75,"y":1.25,"u":0.87},{"x":-53.75,"y":-1.25,"u":0.87},{"x":-53.75,"y":-3.75,"u":0.86},{"x":-53.75,"y":-6.25,"u":0.85},{"x":-53.75,"y":-8.75,"u":0.83},{"x":-53.75,"y":-11.25,"u":0.8},{"x":-53.75,"y":-13.75,"u":0.77},{"x":-53.75,"y":-16.25,"u":0.73},{"x":-53.75,"y":-18.75,"u":0.69},{"x":-53.75,"y":-21.25,"u":0.65},{"x":-53.75,"y":-23.75,"u":0.61},
{"x":-51.25,"y":23.75,"u":0.62},{"x":-51.25,"y":21.25,"u":0.67},{"x":-51.25,"y":18.75,"u":0.72},{"x":-51.25,"y":16.25,"u":0.76},{"x":-51.25,"y":13.75,"u":0.8},{"x":-51.25,"y":11.25,"u":0.84},{"x":-51.25,"y":8.75,"u":0.87},{"x":-51.25,"y":6.25,"u":0.89},{"x":-51.25,"y":3.75,"u":0.9},{"x":-51.25,"y":1.25,"u":0.91},{"x":-51.25,"y":-1.25,"u":0.91},{"x":-51.25,"y":-3.75,"u":0.9},{"x":-51.25,"y":-6.25,"u":0.89},{"x":-51.25,"y":-8.75,"u":0.87},{"x":-51.25,"y":-11.25,"u":0.84},{"x":-51.25,"y":-13.75,"u":0.8},{"x":-51.25,"y":-16.25,"u":0.76},{"x":-51.25,"y":-18.75,"u":0.72},{"x":-51.25,"y":-21.25,"u":0.67},{"x":-51.25,"y":-23.75,"u":0.62},
{"x":-48.75,"y":23.75,"u":0.64},{"x":-48.75,"y":21.25,"u":0.69},{"x":-48.75,"y":18.75,"u":0.75},{"x":-48.75,"y":16.25,"u":0.79},{"x":-48.75,"y":13.75,"u":0.84},{"x":-48.75,"y":11.25,"u":0.87},{"x":-48.75,"y":8.75,"u":0.9},{"x":-48.75,"y":6.25,"u":0.93},{"x":-48.75,"y":3.75,"u":0.95},{"x":-48.75,"y":1.25,"u":0.95},{"x":-48.75,"y":-1.25,"u":0.95},{"x":-48.75,"y":-3.75,"u":0.95},{"x":-48.75,"y":-6.25,"u":0.93},{"x":-48.75,"y":-8.75,"u":0.9},{"x":-48.75,"y":-11.25,"u":0.87},{"x":-48.75,"y":-13.75,"u":0.84},{"x":-48.75,"y":-16.25,"u":0.79},{"x":-48.75,"y":-18.75,"u":0.75},{"x":-48.75,"y":-21.25,"u":0.69},{"x":-48.75,"y":-23.75,"u":0.64},
{"x":-46.25,"y":23.75,"u":0.66},{"x":-46.25,"y":21.25,"u":0.72},{"x":-46.25,"y":18.75,"u":0.77},{"x":-46.25,"y":16.25,"u":0.82},{"x":-46.25,"y":13.75,"u":0.87},{"x":-46.25,"y":11.25,"u":0.91},{"x":-46.25,"y":8.75,"u":0.94},{"x":-46.25,"y":6.25,"u":0.97},{"x":-46.25,"y":3.75,"u":0.99},{"x":-46.25,"y":1.25,"u":1},{"x":-46.25,"y":-1.25,"u":1},{"x":-46.25,"y":-3.75,"u":0.99},{"x":-46.25,"y":-6.25,"u":0.97},{"x":-46.25,"y":-8.75,"u":0.94},{"x":-46.25,"y":-11.25,"u":0.91},{"x":-46.25,"y":-13.75,"u":0.87},{"x":-46.25,"y":-16.25,"u":0.82},{"x":-46.25,"y":-18.75,"u":0.77},{"x":-46.25,"y":-21.25,"u":0.72},{"x":-46.25,"y":-23.75,"u":0.66},
{"x":-43.75,"y":23.75,"u":0.68},{"x":-43.75,"y":21.25,"u":0.74},{"x":-43.75,"y":18.75,"u":0.8},{"x":-43.75,"y":16.25,"u":0.85},{"x":-43.75,"y":13.75,"u":0.9},{"x":-43.75,"y":11.25,"u":0.94},{"x":-43.75,"y":8.75,"u":0.98},{"x":-43.75,"y":6.25,"u":1.01},{"x":-43.75,"y":3.75,"u":1.03},{"x":-43.75,"y":1.25,"u":1.04},{"x":-43.75,"y":-1.25,"u":1.04},{"x":-43.75,"y":-3.75,"u":1.03},{"x":-43.75,"y":-6.25,"u":1.01},{"x":-43.75,"y":-8.75,"u":0.98},{"x":-43.75,"y":-11.25,"u":0.94},{"x":-43.75,"y":-13.75,"u":0.9},{"x":-43.75,"y":-16.25,"u":0.85},{"x":-43.75,"y":-18.75,"u":0.8},{"x":-43.75,"y":-21.25,"u":0.74},{"x":-43.75,"y":-23.75,"u":0.68},
{"x":-41.25,"y":23.75,"u":0.7},{"x":-41.25,"y":21.25,"u":0.76},{"x":-41.25,"y":18.75,"u":0.82},{"x":-41.25,"y":16.25,"u":0.88},{"x":-41.25,"y":13.75,"u":0.93},{"x":-41.25,"y":11.25,"u":0.97},{"x":-41.25,"y":8.75,"u":1.02},{"x":-41.25,"y":6.25,"u":1.05},{"x":-41.25,"y":3.75,"u":1.08},{"x":-41.25,"y":1.25,"u":1.09},{"x":-41.25,"y":-1.25,"u":1.09},{"x":-41.25,"y":-3.75,"u":1.08},{"x":-41.25,"y":-6.25,"u":1.05},{"x":-41.25,"y":-8.75,"u":1.02},{"x":-41.25,"y":-11.25,"u":0.97},{"x":-41.25,"y":-13.75,"u":0.93},{"x":-41.25,"y":-16.25,"u":0.88},{"x":-41.25,"y":-18.75,"u":0.82},{"x":-41.25,"y":-21.25,"u":0.76},{"x":-41.25,"y":-23.75,"u":0.7},
{"x":-38.75,"y":23.75,"u":0.71},{"x":-38.75,"y":21.25,"u":0.77},{"x":-38.75,"y":18.75,"u":0.84},{"x":-38.75,"y":16.25,"u":0.9},{"x":-38.75,"y":13.75,"u":0.95},{"x":-38.75,"y":11.25,"u":1},{"x":-38.75,"y":8.75,"u":1.05},{"x":-38.75,"y":6.25,"u":1.09},{"x":-38.75,"y":3.75,"u":1.13},{"x":-38.75,"y":1.25,"u":1.14},{"x":-38.75,"y":-1.25,"u":1.14},{"x":-38.75,"y":-3.75,"u":1.13},{"x":-38.75,"y":-6.25,"u":1.09},{"x":-38.75,"y":-8.75,"u":1.05},{"x":-38.75,"y":-11.25,"u":1},{"x":-38.75,"y":-13.75,"u":0.95},{"x":-38.75,"y":-16.25,"u":0.9},{"x":-38.75,"y":-18.75,"u":0.84},{"x":-38.75,"y":-21.25,"u":0.77},{"x":-38.75,"y":-23.75,"u":0.71},
{"x":-36.25,"y":23.75,"u":0.72},{"x":-36.25,"y":21.25,"u":0.79},{"x":-36.25,"y":18.75,"u":0.85},{"x":-36.25,"y":16.25,"u":0.92},{"x":-36.25,"y":13.75,"u":0.97},{"x":-36.25,"y":11.25,"u":1.03},{"x":-36.25,"y":8.75,"u":1.09},{"x":-36.25,"y":6.25,"u":1.14},{"x":-36.25,"y":3.75,"u":1.18},{"x":-36.25,"y":1.25,"u":1.21},{"x":-36.25,"y":-1.25,"u":1.21},{"x":-36.25,"y":-3.75,"u":1.18},{"x":-36.25,"y":-6.25,"u":1.14},{"x":-36.25,"y":-8.75,"u":1.09},{"x":-36.25,"y":-11.25,"u":1.03},{"x":-36.25,"y":-13.75,"u":0.97},{"x":-36.25,"y":-16.25,"u":0.92},{"x":-36.25,"y":-18.75,"u":0.85},{"x":-36.25,"y":-21.25,"u":0.79},{"x":-36.25,"y":-23.75,"u":0.72},
{"x":-33.75,"y":23.75,"u":0.73},{"x":-33.75,"y":21.25,"u":0.8},{"x":-33.75,"y":18.75,"u":0.87},{"x":-33.75,"y":16.25,"u":0.93},{"x":-33.75,"y":13.75,"u":0.99},{"x":-33.75,"y":11.25,"u":1.05},{"x":-33.75,"y":8.75,"u":1.12},{"x":-33.75,"y":6.25,"u":1.18},{"x":-33.75,"y":3.75,"u":1.25},{"x":-33.75,"y":1.25,"u":1.31},{"x":-33.75,"y":-1.25,"u":1.31},{"x":-33.75,"y":-3.75,"u":1.25},{"x":-33.75,"y":-6.25,"u":1.18},{"x":-33.75,"y":-8.75,"u":1.12},{"x":-33.75,"y":-11.25,"u":1.05},{"x":-33.75,"y":-13.75,"u":0.99},{"x":-33.75,"y":-16.25,"u":0.93},{"x":-33.75,"y":-18.75,"u":0.87},{"x":-33.75,"y":-21.25,"u":0.8},{"x":-33.75,"y":-23.75,"u":0.73},
{"x":-31.25,"y":23.75,"u":0.74},{"x":-31.25,"y":21.25,"u":0.81},{"x":-31.25,"y":18.75,"u":0.87},{"x":-31.25,"y":16.25,"u":0.94},{"x":-31.25,"y":13.75,"u":1},{"x":-31.25,"y":11.25,"u":1.07},{"x":-31.25,"y":8.75,"u":1.13},{"x":-31.25,"y":6.25,"u":1.21},{"x":-31.25,"y":3.75,"u":1.31},{"x":-31.25,"y":1.25,"u":1.46},{"x":-31.25,"y":-1.25,"u":1.46},{"x":-31.25,"y":-3.75,"u":1.31},{"x":-31.25,"y":-6.25,"u":1.21},{"x":-31.25,"y":-8.75,"u":1.13},{"x":-31.25,"y":-11.25,"u":1.07},{"x":-31.25,"y":-13.75,"u":1},{"x":-31.25,"y":-16.25,"u":0.94},{"x":-31.25,"y":-18.75,"u":0.87},{"x":-31.25,"y":-21.25,"u":0.81},{"x":-31.25,"y":-23.75,"u":0.74},
{"x":-28.75,"y":23.75,"u":0.74},{"x":-28.75,"y":21.25,"u":0.81},{"x":-28.75,"y":18.75,"u":0.87},{"x":-28.75,"y":16.25,"u":0.94},{"x":-28.75,"y":13.75,"u":1},{"x":-28.75,"y":11.25,"u":1.07},{"x":-28.75,"y":8.75,"u":1.13},{"x":-28.75,"y":6.25,"u":1.21},{"x":-28.75,"y":3.75,"u":1.31},{"x":-28.75,"y":1.25,"u":1.46},{"x":-28.75,"y":-1.25,"u":1.46},{"x":-28.75,"y":-3.75,"u":1.31},{"x":-28.75,"y":-6.25,"u":1.21},{"x":-28.75,"y":-8.75,"u":1.13},{"x":-28.75,"y":-11.25,"u":1.07},{"x":-28.75,"y":-13.75,"u":1},{"x":-28.75,"y":-16.25,"u":0.94},{"x":-28.75,"y":-18.75,"u":0.87},{"x":-28.75,"y":-21.25,"u":0.81},{"x":-28.75,"y":-23.75,"u":0.74},
{"x":-26.25,"y":23.75,"u":0.73},{"x":-26.25,"y":21.25,"u":0.8},{"x":-26.25,"y":18.75,"u":0.87},{"x":-26.25,"y":16.25,"u":0.93},{"x":-26.25,"y":13.75,"u":0.99},{"x":-26.25,"y":11.25,"u":1.05},{"x":-26.25,"y":8.75,"u":1.12},{"x":-26.25,"y":6.25,"u":1.18},{"x":-26.25,"y":3.75,"u":1.25},{"x":-26.25,"y":1.25,"u":1.31},{"x":-26.25,"y":-1.25,"u":1.31},{"x":-26.25,"y":-3.75,"u":1.25},{"x":-26.25,"y":-6.25,"u":1.18},{"x":-26.25,"y":-8.75,"u":1.12},{"x":-26.25,"y":-11.25,"u":1.05},{"x":-26.25,"y":-13.75,"u":0.99},{"x":-26.25,"y":-16.25,"u":0.93},{"x":-26.25,"y":-18.75,"u":0.87},{"x":-26.25,"y":-21.25,"u":0.8},{"x":-26.25,"y":-23.75,"u":0.73},
{"x":-23.75,"y":23.75,"u":0.72},{"x":-23.75,"y":21.25,"u":0.79},{"x":-23.75,"y":18.75,"u":0.85},{"x":-23.75,"y":16.25,"u":0.92},{"x":-23.75,"y":13.75,"u":0.97},{"x":-23.75,"y":11.25,"u":1.03},{"x":-23.75,"y":8.75,"u":1.09},{"x":-23.75,"y":6.25,"u":1.14},{"x":-23.75,"y":3.75,"u":1.18},{"x":-23.75,"y":1.25,"u":1.21},{"x":-23.75,"y":-1.25,"u":1.21},{"x":-23.75,"y":-3.75,"u":1.18},{"x":-23.75,"y":-6.25,"u":1.14},{"x":-23.75,"y":-8.75,"u":1.09},{"x":-23.75,"y":-11.25,"u":1.03},{"x":-23.75,"y":-13.75,"u":0.97},{"x":-23.75,"y":-16.25,"u":0.92},{"x":-23.75,"y":-18.75,"u":0.85},{"x":-23.75,"y":-21.25,"u":0.79},{"x":-23.75,"y":-23.75,"u":0.72},
{"x":-21.25,"y":23.75,"u":0.71},{"x":-21.25,"y":21.25,"u":0.77},{"x":-21.25,"y":18.75,"u":0.83},{"x":-21.25,"y":16.25,"u":0.89},{"x":-21.25,"y":13.75,"u":0.94},{"x":-21.25,"y":11.25,"u":1},{"x":-21.25,"y":8.75,"u":1.04},{"x":-21.25,"y":6.25,"u":1.09},{"x":-21.25,"y":3.75,"u":1.12},{"x":-21.25,"y":1.25,"u":1.14},{"x":-21.25,"y":-1.25,"u":1.14},{"x":-21.25,"y":-3.75,"u":1.12},{"x":-21.25,"y":-6.25,"u":1.09},{"x":-21.25,"y":-8.75,"u":1.04},{"x":-21.25,"y":-11.25,"u":1},{"x":-21.25,"y":-13.75,"u":0.94},{"x":-21.25,"y":-16.25,"u":0.89},{"x":-21.25,"y":-18.75,"u":0.83},{"x":-21.25,"y":-21.25,"u":0.77},{"x":-21.25,"y":-23.75,"u":0.71},
{"x":-18.75,"y":23.75,"u":0.68},{"x":-18.75,"y":21.25,"u":0.74},{"x":-18.75,"y":18.75,"u":0.8},{"x":-18.75,"y":16.25,"u":0.86},{"x":-18.75,"y":13.75,"u":0.91},{"x":-18.75,"y":11.25,"u":0.95},{"x":-18.75,"y":8.75,"u":0.99},{"x":-18.75,"y":6.25,"u":1.03},{"x":-18.75,"y":3.75,"u":1.05},{"x":-18.75,"y":1.25,"u":1.06},{"x":-18.75,"y":-1.25,"u":1.06},{"x":-18.75,"y":-3.75,"u":1.05},{"x":-18.75,"y":-6.25,"u":1.03},{"x":-18.75,"y":-8.75,"u":0.99},{"x":-18.75,"y":-11.25,"u":0.95},{"x":-18.75,"y":-13.75,"u":0.91},{"x":-18.75,"y":-16.25,"u":0.86},{"x":-18.75,"y":-18.75,"u":0.8},{"x":-18.75,"y":-21.25,"u":0.74},{"x":-18.75,"y":-23.75,"u":0.68},
{"x":-16.25,"y":23.75,"u":0.64},{"x":-16.25,"y":21.25,"u":0.7},{"x":-16.25,"y":18.75,"u":0.76},{"x":-16.25,"y":16.25,"u":0.81},{"x":-16.25,"y":13.75,"u":0.86},{"x":-16.25,"y":11.25,"u":0.9},{"x":-16.25,"y":8.75,"u":0.91},{"x":-16.25,"y":6.25,"u":0.92},{"x":-16.25,"y":3.75,"u":0.92},{"x":-16.25,"y":1.25,"u":0.93},{"x":-16.25,"y":-1.25,"u":0.93},{"x":-16.25,"y":-3.75,"u":0.92},{"x":-16.25,"y":-6.25,"u":0.92},{"x":-16.25,"y":-8.75,"u":0.91},{"x":-16.25,"y":-11.25,"u":0.9},{"x":-16.25,"y":-13.75,"u":0.86},{"x":-16.25,"y":-16.25,"u":0.81},{"x":-16.25,"y":-18.75,"u":0.76},{"x":-16.25,"y":-21.25,"u":0.7},{"x":-16.25,"y":-23.75,"u":0.64},
{"x":-13.75,"y":23.75,"u":0.6},{"x":-13.75,"y":21.25,"u":0.65},{"x":-13.75,"y":18.75,"u":0.7},{"x":-13.75,"y":16.25,"u":0.75},{"x":-13.75,"y":13.75,"u":0.77},{"x":-13.75,"y":11.25,"u":0.78},{"x":-13.75,"y":8.75,"u":0.78},{"x":-13.75,"y":6.25,"u":0.78},{"x":-13.75,"y":3.75,"u":0.78},{"x":-13.75,"y":1.25,"u":0.78},{"x":-13.75,"y":-1.25,"u":0.78},{"x":-13.75,"y":-3.75,"u":0.78},{"x":-13.75,"y":-6.25,"u":0.78},{"x":-13.75,"y":-8.75,"u":0.78},{"x":-13.75,"y":-11.25,"u":0.78},{"x":-13.75,"y":-13.75,"u":0.77},{"x":-13.75,"y":-16.25,"u":0.75},{"x":-13.75,"y":-18.75,"u":0.7},{"x":-13.75,"y":-21.25,"u":0.65},{"x":-13.75,"y":-23.75,"u":0.6},
{"x":-11.25,"y":23.75,"u":0.54},{"x":-11.25,"y":21.25,"u":0.59},{"x":-11.25,"y":18.75,"u":0.64},{"x":-11.25,"y":16.25,"u":0.66},{"x":-11.25,"y":13.75,"u":0.66},{"x":-11.25,"y":11.25,"u":0.66},{"x":-11.25,"y":8.75,"u":0.65},{"x":-11.25,"y":6.25,"u":0.64},{"x":-11.25,"y":3.75,"u":0.64},{"x":-11.25,"y":1.25,"u":0.63},{"x":-11.25,"y":-1.25,"u":0.63},{"x":-11.25,"y":-3.75,"u":0.64},{"x":-11.25,"y":-6.25,"u":0.64},{"x":-11.25,"y":-8.75,"u":0.65},{"x":-11.25,"y":-11.25,"u":0.66},{"x":-11.25,"y":-13.75,"u":0.66},{"x":-11.25,"y":-16.25,"u":0.66},{"x":-11.25,"y":-18.75,"u":0.64},{"x":-11.25,"y":-21.25,"u":0.59},{"x":-11.25,"y":-23.75,"u":0.54},
{"x":-8.75,"y":23.75,"u":0.48},{"x":-8.75,"y":21.25,"u":0.52},{"x":-8.75,"y":18.75,"u":0.54},{"x":-8.75,"y":16.25,"u":0.54},{"x":-8.75,"y":13.75,"u":0.54},{"x":-8.75,"y":11.25,"u":0.53},{"x":-8.75,"y":8.75,"u":0.52},{"x":-8.75,"y":6.25,"u":0.5},{"x":-8.75,"y":3.75,"u":0.49},{"x":-8.75,"y":1.25,"u":0.48},{"x":-8.75,"y":-1.25,"u":0.48},{"x":-8.75,"y":-3.75,"u":0.49},{"x":-8.75,"y":-6.25,"u":0.5},{"x":-8.75,"y":-8.75,"u":0.52},{"x":-8.75,"y":-11.25,"u":0.53},{"x":-8.75,"y":-13.75,"u":0.54},{"x":-8.75,"y":-16.25,"u":0.54},{"x":-8.75,"y":-18.75,"u":0.54},{"x":-8.75,"y":-21.25,"u":0.52},{"x":-8.75,"y":-23.75,"u":0.48},
{"x":-6.25,"y":23.75,"u":0.41},{"x":-6.25,"y":21.25,"u":0.44},{"x":-6.25,"y":18.75,"u":0.43},{"x":-6.25,"y":16.25,"u":0.43},{"x":-6.25,"y":13.75,"u":0.42},{"x":-6.25,"y":11.25,"u":0.4},{"x":-6.25,"y":8.75,"u":0.38},{"x":-6.25,"y":6.25,"u":0.36},{"x":-6.25,"y":3.75,"u":0.34},{"x":-6.25,"y":1.25,"u":0.33},{"x":-6.25,"y":-1.25,"u":0.33},{"x":-6.25,"y":-3.75,"u":0.34},{"x":-6.25,"y":-6.25,"u":0.36},{"x":-6.25,"y":-8.75,"u":0.38},{"x":-6.25,"y":-11.25,"u":0.4},{"x":-6.25,"y":-13.75,"u":0.42},{"x":-6.25,"y":-16.25,"u":0.43},{"x":-6.25,"y":-18.75,"u":0.43},{"x":-6.25,"y":-21.25,"u":0.44},{"x":-6.25,"y":-23.75,"u":0.41},
{"x":-3.75,"y":23.75,"u":0.33},{"x":-3.75,"y":21.25,"u":0.34},{"x":-3.75,"y":18.75,"u":0.33},{"x":-3.75,"y":16.25,"u":0.32},{"x":-3.75,"y":13.75,"u":0.3},{"x":-3.75,"y":11.25,"u":0.28},{"x":-3.75,"y":8.75,"u":0.26},{"x":-3.75,"y":6.25,"u":0.23},{"x":-3.75,"y":3.75,"u":0.2},{"x":-3.75,"y":1.25,"u":0.18},{"x":-3.75,"y":-1.25,"u":0.18},{"x":-3.75,"y":-3.75,"u":0.2},{"x":-3.75,"y":-6.25,"u":0.23},{"x":-3.75,"y":-8.75,"u":0.26},{"x":-3.75,"y":-11.25,"u":0.28},{"x":-3.75,"y":-13.75,"u":0.3},{"x":-3.75,"y":-16.25,"u":0.32},{"x":-3.75,"y":-18.75,"u":0.33},{"x":-3.75,"y":-21.25,"u":0.34},{"x":-3.75,"y":-23.75,"u":0.33},
{"x":-1.25,"y":23.75,"u":0.27},{"x":-1.25,"y":21.25,"u":0.27},{"x":-1.25,"y":18.75,"u":0.26},{"x":-1.25,"y":16.25,"u":0.25},{"x":-1.25,"y":13.75,"u":0.23},{"x":-1.25,"y":11.25,"u":0.2},{"x":-1.25,"y":8.75,"u":0.16},{"x":-1.25,"y":6.25,"u":0.12},{"x":-1.25,"y":3.75,"u":0.09},{"x":-1.25,"y":1.25,"u":0.06},{"x":-1.25,"y":-1.25,"u":0.06},{"x":-1.25,"y":-3.75,"u":0.09},{"x":-1.25,"y":-6.25,"u":0.12},{"x":-1.25,"y":-8.75,"u":0.16},{"x":-1.25,"y":-11.25,"u":0.2},{"x":-1.25,"y":-13.75,"u":0.23},{"x":-1.25,"y":-16.25,"u":0.25},{"x":-1.25,"y":-18.75,"u":0.26},{"x":-1.25,"y":-21.25,"u":0.27},{"x":-1.25,"y":-23.75,"u":0.27}
],
"frame":[{"x1":-150,"x2":30,"y1":-50,"y2":50}],
"hole":[{"x":6,"y":0}],
"notes":[{"x":42.8,"y":59.2,"t":"▲ 1.5×10⁴"},{"x":51.4,"y":50.4,"t":"×10⁴"},{"x":42.8,"y":-61.1,"t":"▼ 0"}]
},
"layer":[
{"data":{"name":"coarse"},
 "mark":{"type":"square","size":115,"opacity":1,"strokeWidth":0},
 "encoding":{
  "x":{"field":"x","type":"quantitative","scale":{"domain":[-159.4,39.4],"nice":false,"zero":false},
       "axis":{"orient":"bottom","values":[-150,-100,-50,0],"labelExpr":"'' + datum.value","title":"Length(mm)","labelPadding":11,"titlePadding":3}},
  "y":{"field":"y","type":"quantitative","scale":{"domain":[-65,65],"nice":false,"zero":false},
       "axis":{"orient":"left","values":[-60,-50,-40,-30,-20,-10,0,10,20,30,40,50,60],"labelExpr":"'' + datum.value","title":"Length(mm)","labelPadding":14,"titlePadding":18}},
  "color":{"field":"u","type":"quantitative","scale":{"domain":[0,1.5],"range":["#ffffff","#000000"],"interpolate":"rgb","clamp":true},
       "legend":{"orient":"none","legendX":426,"legendY":45,"direction":"vertical","gradientLength":200,"gradientThickness":10,"title":null,"values":[0,0.2,0.4,0.6,0.8,1,1.2,1.4],"format":".1~f","labelFontSize":14,"labelFont":"DejaVu Sans","labelColor":"black","labelOffset":4,"labelBaseline":"middle","labelOverlap":false,"gradientStrokeColor":"black","gradientStrokeWidth":1}}
 }},
{"data":{"name":"fine"},
 "mark":{"type":"square","size":30,"opacity":1,"strokeWidth":0},
 "encoding":{
  "x":{"field":"x","type":"quantitative","scale":{"domain":[-159.4,39.4],"nice":false,"zero":false},"axis":null},
  "y":{"field":"y","type":"quantitative","scale":{"domain":[-65,65],"nice":false,"zero":false},"axis":null},
  "color":{"field":"u","type":"quantitative","scale":{"domain":[0,1.5],"range":["#ffffff","#000000"],"interpolate":"rgb","clamp":true}}
 }},
{"data":{"name":"frame"},
 "mark":{"type":"rect","fill":"transparent","stroke":"#444444","strokeWidth":1},
 "encoding":{
  "x":{"field":"x1","type":"quantitative","scale":{"domain":[-159.4,39.4],"nice":false,"zero":false},"axis":{"orient":"top","values":[-150,-100,-50,0],"labels":false,"title":null}},
  "x2":{"field":"x2"},
  "y":{"field":"y1","type":"quantitative","scale":{"domain":[-65,65],"nice":false,"zero":false},"axis":{"orient":"right","values":[-60,-50,-40,-30,-20,-10,0,10,20,30,40,50,60],"labels":false,"title":null}},
  "y2":{"field":"y2"}
 }},
{"data":{"name":"hole"},
 "mark":{"type":"point","shape":"circle","filled":true,"fill":"white","stroke":"#333333","strokeWidth":1,"size":480,"opacity":1},
 "encoding":{
  "x":{"field":"x","type":"quantitative","scale":{"domain":[-159.4,39.4],"nice":false,"zero":false},"axis":null},
  "y":{"field":"y","type":"quantitative","scale":{"domain":[-65,65],"nice":false,"zero":false},"axis":null}
 }},
{"data":{"name":"notes"},
 "mark":{"type":"text","align":"left","baseline":"middle","font":"DejaVu Sans","fontSize":14,"color":"black"},
 "encoding":{
  "x":{"field":"x","type":"quantitative","scale":{"domain":[-159.4,39.4],"nice":false,"zero":false},"axis":null},
  "y":{"field":"y","type":"quantitative","scale":{"domain":[-65,65],"nice":false,"zero":false},"axis":null},
  "text":{"field":"t","type":"nominal"}
 }}
],
"resolve":{"axis":{"x":"independent","y":"independent"}}
}
